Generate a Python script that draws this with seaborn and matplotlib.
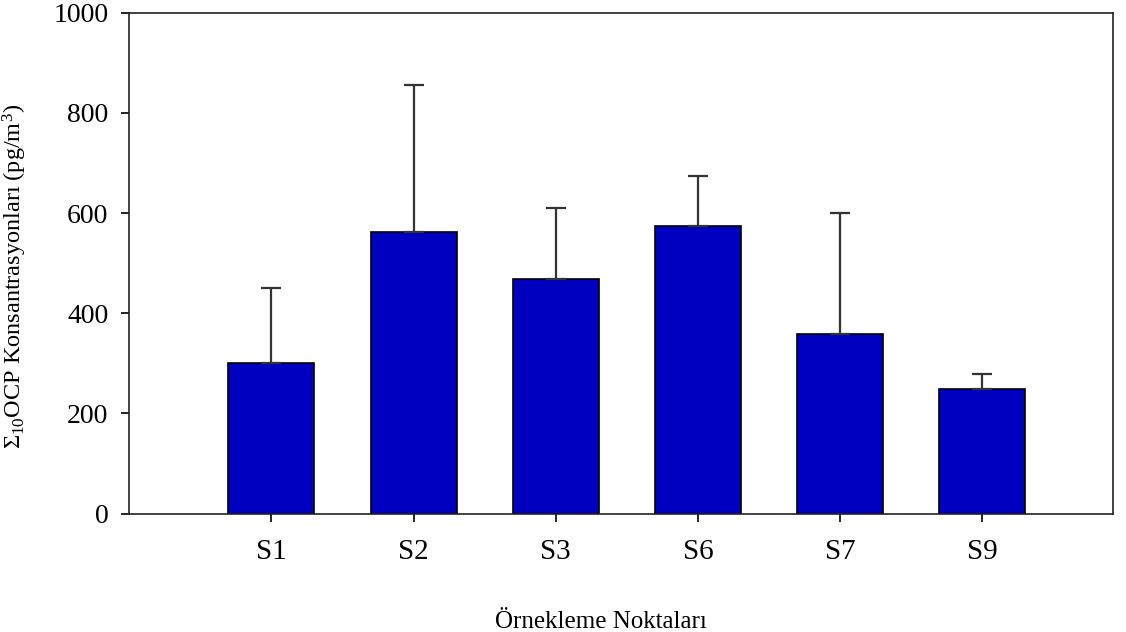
import pandas as pd
import matplotlib.pyplot as plt
import seaborn as sns
import numpy as np

# values
sites = ['S1', 'S2', 'S3', 'S6', 'S7', 'S9']
ocp_mean = [301, 563, 468, 574, 359, 249]
ocp_sd = [150, 293, 142, 101, 242, 30]

df = pd.DataFrame({'site': sites, 'ocp': ocp_mean})

sns.set_style('ticks')
plt.rcParams['font.family'] = ['Liberation Serif', 'DejaVu Serif']
plt.rcParams['mathtext.fontset'] = 'custom'
plt.rcParams['mathtext.rm'] = 'Liberation Serif'
plt.rcParams['mathtext.it'] = 'Liberation Serif'
plt.rcParams['mathtext.default'] = 'rm'
plt.rcParams['text.color'] = 'black'
plt.rcParams['axes.labelcolor'] = 'black'
plt.rcParams['xtick.color'] = 'black'
plt.rcParams['ytick.color'] = 'black'

fig = plt.figure(figsize=(11.26, 6.32), dpi=100)
ax = fig.add_axes([0.1148, 0.1872, 0.8737, 0.7927])

sns.barplot(data=df, x='site', y='ocp', color='#0000C0', saturation=1,
            width=0.605, edgecolor='black', linewidth=1.2, errorbar=None, ax=ax)

# upper error bars only
ax.errorbar(np.arange(len(sites)), ocp_mean, yerr=[np.zeros(len(sites)), ocp_sd],
            fmt='none', ecolor='#333333', elinewidth=1.6, capsize=7.5, capthick=1.6)

ax.set_ylim(0, 1000)
ax.set_xlim(-1.0, 5.92)
ax.set_yticks([0, 200, 400, 600, 800, 1000])

for side in ['top', 'right', 'left', 'bottom']:
    ax.spines[side].set_visible(True)
    ax.spines[side].set_color('#222222')
    ax.spines[side].set_linewidth(1.2)

ax.tick_params(axis='y', direction='out', length=6, width=1.2, labelsize=20, pad=9)
ax.tick_params(axis='x', direction='out', length=6, width=1.2, labelsize=21, pad=12)

ax.set_xlabel('Örnekleme Noktaları', fontsize=18)
ax.xaxis.set_label_coords((601 - 129.3) / 983.7, -0.194)
ax.set_ylabel(r'$\Sigma_{10}$OCP Konsantrasyonları (pg/m$^{3}$)', fontsize=17.5)
ax.yaxis.set_label_coords(-0.102, 0.474)

plt.savefig('out.png', dpi=100)
